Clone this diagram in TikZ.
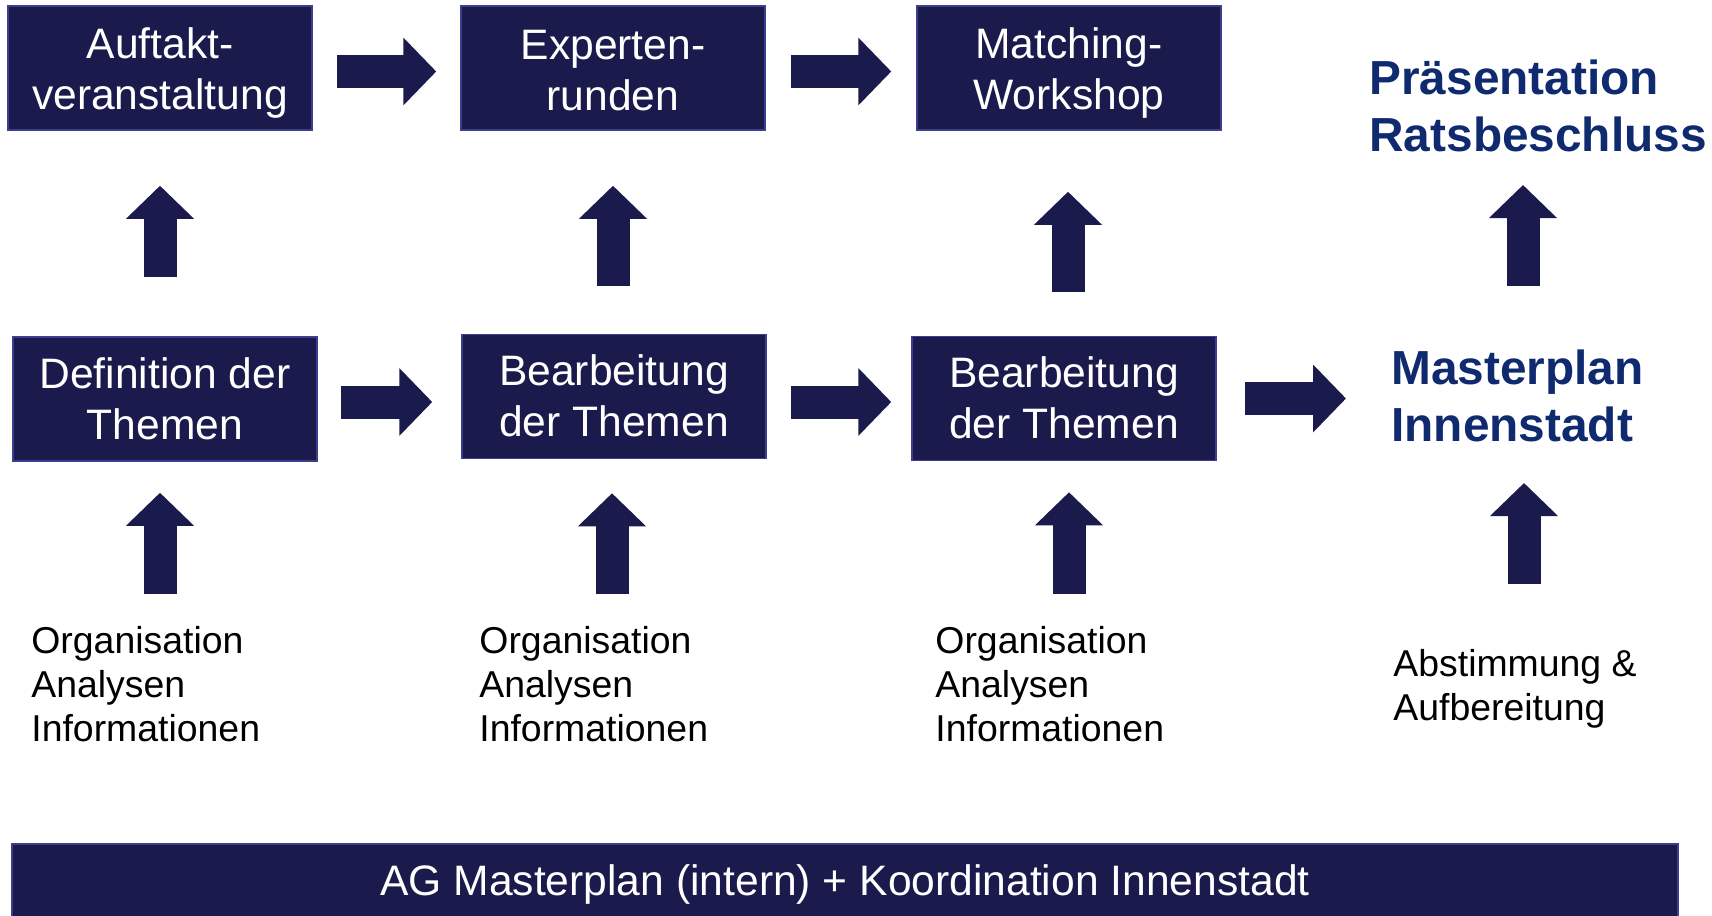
\documentclass[tikz,border=0pt]{standalone}
\usepackage{fontspec}
\setmainfont{Liberation Sans}
\usetikzlibrary{arrows.meta}
\definecolor{navy}{RGB}{27,26,76}
\definecolor{navyline}{RGB}{62,62,142}
\definecolor{titleblue}{RGB}{15,42,110}
\newcommand\twolines[3][18pt]{\rule{0pt}{#1}#2\\#3\rule[-3.5pt]{0pt}{3.5pt}}
\begin{document}
\begin{tikzpicture}[x=0.5pt,y=-0.5pt,
  box/.style={fill=navy, draw=navyline, line width=0.75pt, minimum width=152pt,
    minimum height=62pt, inner sep=0pt, text=white, align=center,
    font=\fontsize{21.3}{25.5}\selectfont},
  bar/.style={fill=navy, draw=navyline, line width=0.75pt, minimum width=833pt,
    minimum height=40pt, inner sep=0pt, text=white, font=\fontsize{21.3}{25}\selectfont},
  title/.style={inner sep=0pt, align=left, text=titleblue,
    font=\fontsize{23.9}{28.5}\selectfont\bfseries},
  info/.style={inner sep=0pt, align=left, text=black,
    font=\fontsize{18.7}{22}\selectfont},
  blk/.style={draw=navy, line width=16.5pt, -{Triangle[width=33pt,length=16.5pt]}}
]
\useasboundingbox (0,0) rectangle (1712,915);

% top row
\node[box] (auf) at (160,68) {\twolines[20.5pt]{Auftakt-}{veranstaltung}};
\node[box] (exp) at (613,68) {\twolines[20.5pt]{Experten-}{runden}};
\node[box] (mat) at (1069,68) {\twolines[20.5pt]{Matching-}{Workshop}};
\node[title, anchor=south west] (pr) at (1369,152) {Präsentation\\Ratsbeschluss};

% middle row
\node[box] (def) at (165,399) {\twolines{Definition der}{Themen}};
\node[box] (bea1) at (614,396.5) {\twolines{Bearbeitung}{der Themen}};
\node[box] (bea2) at (1064,398.5) {\twolines{Bearbeitung}{der Themen}};
\node[title, anchor=south west] (mp) at (1391,442) {Masterplan\\Innenstadt};

% info texts
\node[info, anchor=south west] (i1) at (31,742) {Organisation\\Analysen\\Informationen};
\node[info, anchor=south west] (i2) at (479,742) {Organisation\\Analysen\\Informationen};
\node[info, anchor=south west] (i3) at (935,742) {Organisation\\Analysen\\Informationen};
\node[info, anchor=south west] (i4) at (1393,729) {Abstimmung \&\\Aufbereitung};

% bottom bar
\node[bar] (ag) at (845,884) {AG Masterplan (intern) + Koordination Innenstadt};

% horizontal arrows
\draw[blk, shorten <=12pt, shorten >=12pt] ([yshift=-1.75pt]auf.east) -- ([yshift=-1.75pt]exp.west);
\draw[blk, shorten <=12.5pt, shorten >=12.5pt] ([yshift=-1.75pt]exp.east) -- ([yshift=-1.75pt]mat.west);
\draw[blk, shorten <=11.5pt, shorten >=14.5pt] ([yshift=-1.5pt]def.east) -- ([yshift=-2.75pt]bea1.west);
\draw[blk, shorten <=12pt, shorten >=10pt] ([yshift=-2.75pt]bea1.east) -- ([yshift=-1.75pt]bea2.west);
\draw[blk, shorten <=14pt, shorten >=22.5pt] (bea2.east) -- (bea2.east -| mp.west);

% vertical arrows between rows
\draw[blk, shorten <=29.5pt, shorten >=27.5pt] ([xshift=-2.5pt]def.north) -- (auf.south);
\draw[blk, shorten <=24pt, shorten >=27.5pt] ([xshift=-0.5pt]bea1.north) -- (exp.south);
\draw[blk, shorten <=22pt, shorten >=30.5pt] ([xshift=2pt]bea2.north) -- ([xshift=-0.5pt]mat.south);
\coordinate (v4) at (1523,286);
\draw[blk, shorten >=16.5pt] (v4) -- (v4 |- pr.south);

% vertical arrows from the info texts
\coordinate (t1) at (160,594);
\coordinate (t2) at (612,594);
\coordinate (t3) at (1069,594);
\coordinate (t4) at (1524,584);
\draw[blk, shorten >=15.5pt] (t1) -- (t1 |- def.south);
\draw[blk, shorten >=17pt] (t2) -- (t2 |- bea1.south);
\draw[blk, shorten >=15.5pt] (t3) -- (t3 |- bea2.south);
\draw[blk, shorten >=20.5pt] (t4) -- (t4 |- mp.south);
\end{tikzpicture}
\end{document}
